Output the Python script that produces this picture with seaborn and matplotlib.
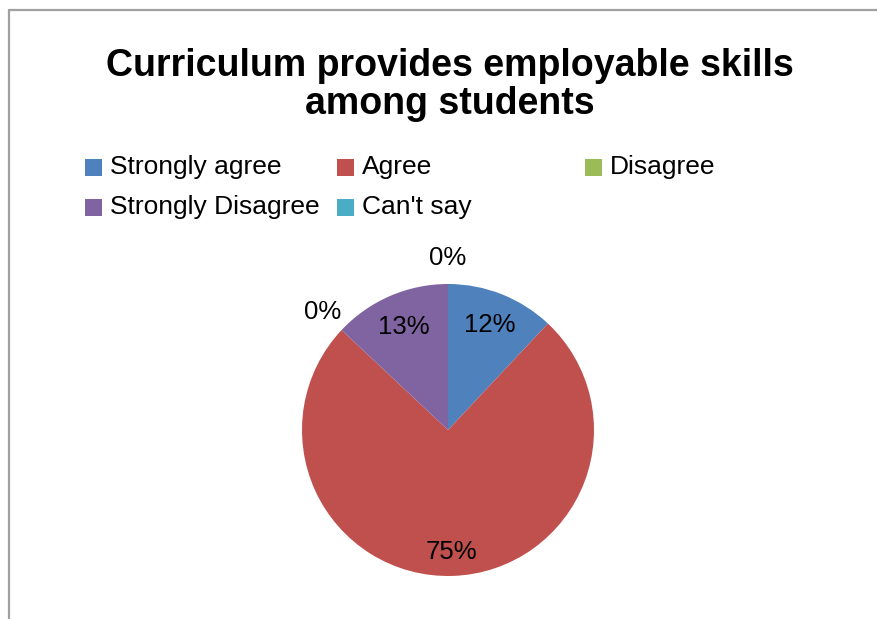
import matplotlib
matplotlib.use("Agg")
import matplotlib.pyplot as plt
from matplotlib.patches import Rectangle
from matplotlib.lines import Line2D
import numpy as np
import seaborn as sns

categories = ["Strongly agree", "Agree", "Disagree", "Strongly Disagree", "Can't say"]
values = [12, 75, 0, 13, 0]
colors = ["#4F81BD", "#C0504D", "#9BBB59", "#8064A2", "#4BACC6"]
title_lines = ["Curriculum provides employable skills", "among students"]

sns.set_theme(style="white")
plt.rcParams["font.family"] = ["Liberation Sans", "DejaVu Sans"]

W, H = 877, 619
fig = plt.figure(figsize=(W / 100, H / 100), dpi=100)
fig.patch.set_facecolor("white")

def fx(px):
    return px / W

def fy(py):
    return 1 - py / H

# frame lines (top and left)
fig.add_artist(Line2D([fx(9), fx(877)], [fy(10), fy(10)], color="#a0a0a0", lw=1.6,
                      transform=fig.transFigure))
fig.add_artist(Line2D([fx(9), fx(9)], [fy(10), fy(619)], color="#a0a0a0", lw=1.6,
                      transform=fig.transFigure))

# title
fig.text(fx(450), fy(76), title_lines[0], ha="center", va="baseline",
         fontsize=27, fontweight="bold", color="black")
fig.text(fx(450), fy(114), title_lines[1], ha="center", va="baseline",
         fontsize=27, fontweight="bold", color="black")

# legend (manual, Excel-like layout)
legend_pos = [(85, 167), (337, 167), (585, 167), (85, 207), (337, 207)]
sq = 17
for (x, y), lab, c in zip(legend_pos, categories, colors):
    fig.add_artist(Rectangle((fx(x), fy(y + sq / 2)), sq / W, sq / H, facecolor=c,
                             edgecolor="none", transform=fig.transFigure))
    fig.text(fx(x + 25), fy(y), lab, ha="left", va="center", fontsize=19, color="black")

# pie axes
R = 146
cx, cy = 448, 430
xl, yb, yt = 1.3, 1.05, 1.3
left_px = cx - xl * R
top_px = cy - yt * R
wpx = 2 * xl * R
hpx = (yb + yt) * R
ax = fig.add_axes([fx(left_px), 1 - (top_px + hpx) / H, wpx / W, hpx / H])

wedges, texts, autotexts = ax.pie(values, colors=colors, startangle=90, counterclock=False,
                                  autopct="%1.0f%%", pctdistance=0.77,
                                  wedgeprops=dict(linewidth=0),
                                  textprops=dict(fontsize=18.5, color="black"))
for w, t, v in zip(wedges, autotexts, values):
    ang = np.deg2rad((w.theta1 + w.theta2) / 2)
    if v == 0:
        r = 1.18
    elif v > 50:
        r = 0.835
    else:
        r = 0.77
    t.set_position((r * np.cos(ang), r * np.sin(ang)))
    t.set_ha("center")
    t.set_va("center")
    t.set_zorder(5)

ax.set_xlim(-xl, xl)
ax.set_ylim(-yb, yt)
ax.set_aspect("auto")
ax.axis("off")

fig.savefig("out.png", dpi=100, facecolor="white")
